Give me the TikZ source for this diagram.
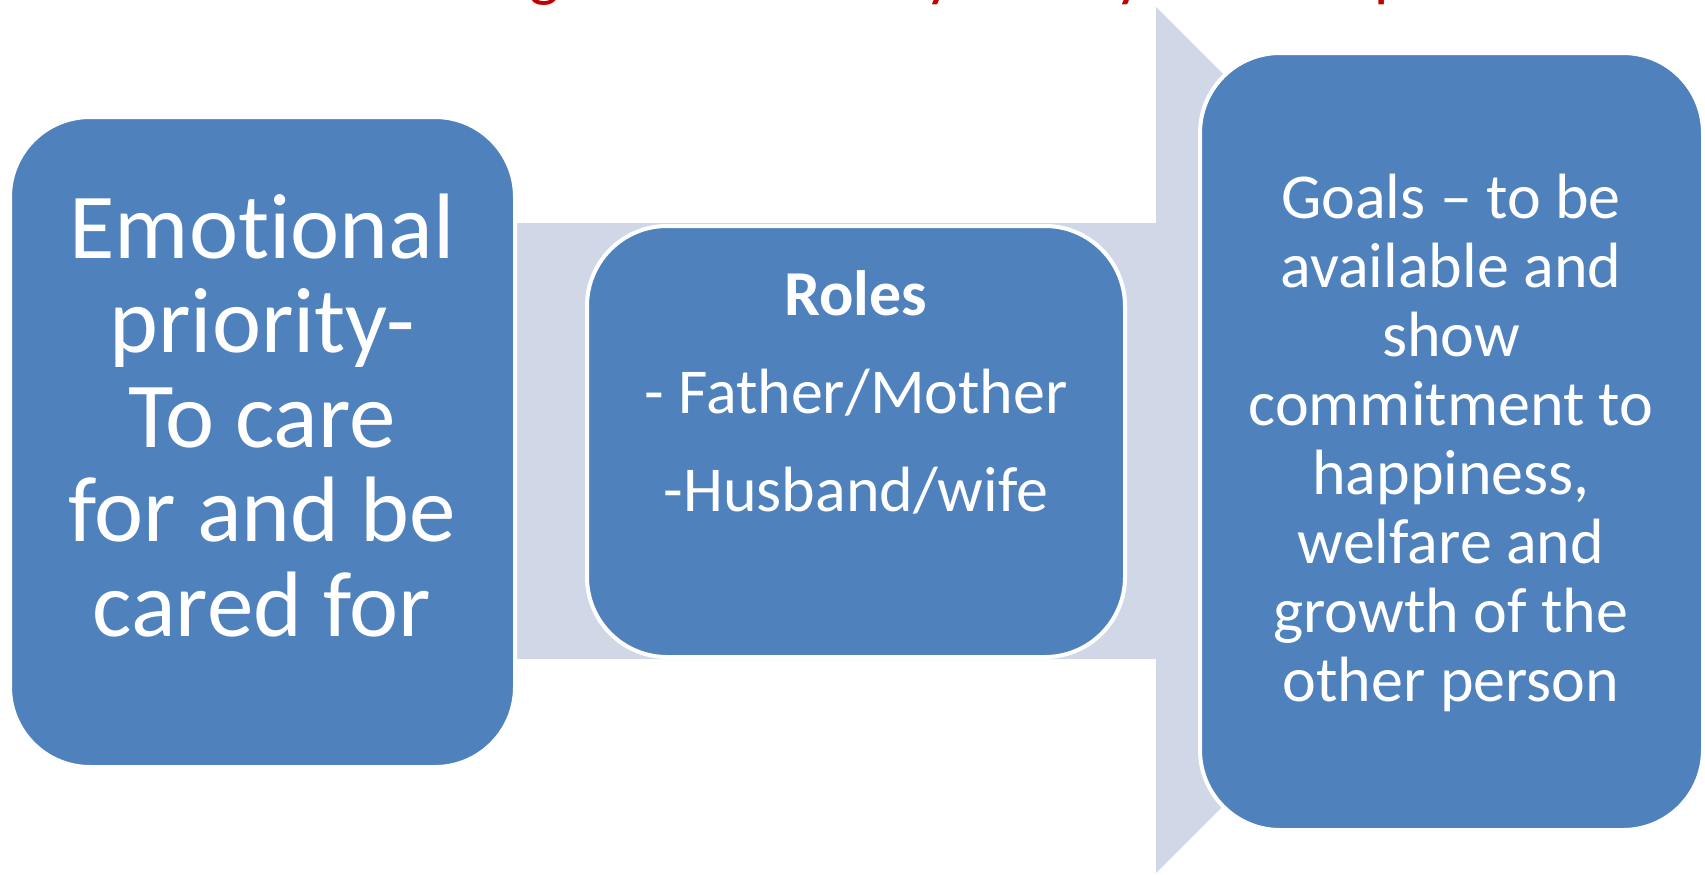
\documentclass[tikz,border=0pt]{standalone}
\usepackage{fontspec}
\setmainfont[Ligatures=NoCommon]{Carlito}
\definecolor{boxblue}{HTML}{4F81BD}
\definecolor{arrowgrey}{HTML}{D0D8E8}
\definecolor{titlered}{HTML}{C00000}
\begin{document}
\begin{tikzpicture}[x=0.5pt,y=-0.5pt,
  box/.style={draw=white, line width=2pt, fill=boxblue, rounded corners=40pt, inner sep=0pt},
  txt/.style={anchor=base, text=white, inner sep=0pt},
  bigtxt/.style={txt, font=\fontsize{46.5}{47}\selectfont},
  midtxt/.style={txt, font=\fontsize{32}{34}\selectfont},
  frag/.style={anchor=base, text=titlered, inner sep=0pt, font=\fontsize{32}{34}\selectfont}]
\useasboundingbox (0,0) rectangle (1705,874);
% partially visible title (cut off at the top)
\begin{scope}
  \clip (0,0) rectangle (1705,7.5);
  \node[frag] (f1) at (545,-6) {g};
  \node[frag] (f2) at (940,-6) {y};
  \node[frag] (f3) at (1130,-6) {y};
  \node[frag] (f4) at (1391,-6) {p};
\end{scope}
% background arrow
\fill[arrowgrey] (400,223) -- (1156,223) -- (1156,7) -- (1589,440) -- (1156,873) -- (1156,659) -- (400,659) -- cycle;
% boxes
\node[box, minimum width=252.5pt, minimum height=325pt] (left) at (262.5,442) {};
\node[box, minimum width=269pt, minimum height=215.5pt] (mid) at (856,441.5) {};
\node[box, minimum width=251.5pt, minimum height=388.5pt] (right) at (1451.5,441.5) {};
% left text
\node[bigtxt] (l1) at (262,258) {Emotional};
\node[bigtxt] (l2) at (262,352.5) {priority-};
\node[bigtxt] (l3) at (262,447) {To care};
\node[bigtxt] (l4) at (262,541.5) {for and be};
\node[bigtxt] (l5) at (262,636) {cared for};
% middle text
\node[midtxt, font=\fontsize{32}{34}\selectfont\bfseries] (m1) at (856,315) {Roles};
\node[midtxt] (m2) at (856,413) {- Father/Mother};
\node[midtxt] (m3) at (856,511) {-Husband/wife};
% right text
\node[midtxt] (r1) at (1451,218) {Goals – to be};
\node[midtxt] (r2) at (1451,287) {available and};
\node[midtxt] (r3) at (1451,356) {show};
\node[midtxt] (r4) at (1451,425) {commitment to};
\node[midtxt] (r5) at (1451,494) {happiness,};
\node[midtxt] (r6) at (1451,563) {welfare and};
\node[midtxt] (r7) at (1451,632) {growth of the};
\node[midtxt] (r8) at (1451,701) {other person};
\end{tikzpicture}
\end{document}
